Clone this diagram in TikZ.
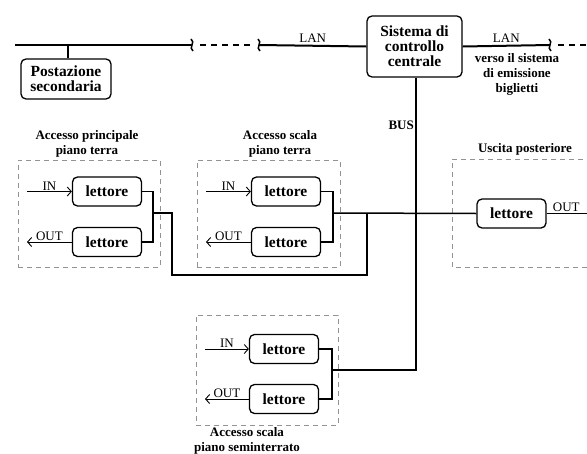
\documentclass[tikz,border=0pt]{standalone}
\usepackage{fontspec}
\setmainfont{Liberation Serif}
\usetikzlibrary{arrows.meta,calc}

\tikzset{
  box/.style={draw, rounded corners=5pt, line width=1.3pt, align=center, inner sep=1pt,
    font=\bfseries\fontsize{15.5}{15}\selectfont},
  reader/.style={box, minimum width=69pt, minimum height=29pt},
  area/.style={draw=gray!85, dash pattern=on 5pt off 4pt, line width=0.8pt},
  caption/.style={align=center, font=\bfseries\fontsize{13}{15}\selectfont},
  tag/.style={font=\fontsize{13}{13}\selectfont, inner sep=1pt},
  wire/.style={line width=1.5pt},
  lan/.style={line width=2pt},
  io/.style={line width=0.9pt, -{Straight Barb[length=4pt,width=9pt]}},
  brk/.style={line width=1.5pt}
}

\begin{document}
\begin{tikzpicture}[x=1pt,y=-1pt]
		\useasboundingbox (0,0) rectangle (587,453);

		\node[box, minimum width=95pt, minimum height=61pt] at (414.5, 46.5) (central) {Sistema di\\controllo\\centrale};
		\node[box, minimum width=90pt, minimum height=40pt] at (66, 79) (second) {Postazione\\secondaria};

		% LAN
		\coordinate (lanL) at (15, 45);
		\coordinate (tap) at (68, 45);
		\coordinate (brkA) at (192, 45);
		\coordinate (brkB) at (259, 45);
		\coordinate (brkC) at (550, 45);
		\coordinate (lanR) at (590, 45);

		\draw[lan] (lanL) -- (brkA);
		\draw[lan, dash pattern=on 6pt off 5pt] ($(brkA)+(8,0)$) -- ($(brkB)+(-6,0)$);
		\draw[lan] (brkB) -- (central.west) node[midway, above, tag, yshift=1pt] {LAN};
		\draw[lan] (central.east) -- (brkC) node[midway, above, tag, yshift=1pt] {LAN};
		\draw[lan, dash pattern=on 6pt off 5pt] ($(brkC)+(8,0)$) -- (lanR);
		\foreach \b in {brkA, brkB, brkC}
			\draw[brk] (\b) ++(-1,-6) .. controls +(5,3) and +(-5,-3) .. ++(2,12);
		\draw[wire] (tap) -- (tap |- second.north);

		\node[caption] at (517, 74) (dest) {verso il sistema\\di emissione\\biglietti};

		% Accesso principale piano terra
		\node[area, minimum width=142pt, minimum height=107pt] at (89, 213.5) (grpA) {};
		\node[caption] at (87, 144) (capA) {Accesso principale\\piano terra};
		\node[reader] at (107, 191.5) (rdA1) {lettore};
		\node[reader] at (107, 242) (rdA2) {lettore};
		\coordinate (inA) at (27, 191.5);
		\coordinate (outA) at (27, 242);
		\coordinate (jA) at (153, 213);

		% Accesso scala piano terra
		\node[area, minimum width=143pt, minimum height=107pt] at (268.5, 213.5) (grpB) {};
		\node[caption] at (280, 144) (capB) {Accesso scala\\piano terra};
		\node[reader] at (286, 191.5) (rdB1) {lettore};
		\node[reader] at (286, 242) (rdB2) {lettore};
		\coordinate (inB) at (206, 191.5);
		\coordinate (outB) at (206, 242);
		\coordinate (jB) at (333, 213);

		% Uscita posteriore
		\draw[area] (592, 159) -- (452, 159) -- (452, 267) -- (592, 267);
		\node[caption] at (525, 149) (capC) {Uscita posteriore};
		\node[reader] at (511.5, 213.5) (rdC) {lettore};
		\coordinate (outC) at (593, 213.5);

		% Accesso scala piano seminterrato
		\node[area, minimum width=142pt, minimum height=110pt] at (267, 370) (grpD) {};
		\node[caption] at (247, 441) (capD) {Accesso scala\\piano seminterrato};
		\node[reader] at (284, 349) (rdD1) {lettore};
		\node[reader] at (284, 399) (rdD2) {lettore};
		\coordinate (inD) at (205, 349);
		\coordinate (outD) at (205, 399);
		\coordinate (jD) at (332, 370);

		% bus
		\coordinate (lowL) at (172, 275);
		\coordinate (lowR) at (367, 275);
		\coordinate (busJ) at (367, 213);
		\coordinate (busEnd) at (416, 370);

		% draw edges
		\draw[io] (inA) -- (rdA1.west) node[midway, above, tag] {IN};
		\draw[io] (rdA2.west) -- (outA) node[midway, above, tag] {OUT};
		\draw[io] (inB) -- (rdB1.west) node[midway, above, tag] {IN};
		\draw[io] (rdB2.west) -- (outB) node[midway, above, tag] {OUT};
		\draw[io] (inD) -- (rdD1.west) node[midway, above, tag] {IN};
		\draw[io] (rdD2.west) -- (outD) node[midway, above, tag] {OUT};
		\draw[io] (rdC.east) -- (outC) node[near start, above, tag, xshift=8pt] {OUT};

		\draw[wire] (rdA1.east) -| (jA) |- (rdA2.east);
		\draw[wire] (rdB1.east) -| (jB) |- (rdB2.east);
		\draw[wire] (rdD1.east) -| (jD) |- (rdD2.east);

		\draw[wire] (jA) -| (lowL) -- (lowR) -- (busJ);
		\draw[wire] (jB) -- (rdC.west);
		\draw[wire] (central.south -| busEnd) -- (busEnd) -- (jD);
		\node[tag, font=\bfseries\fontsize{13}{13}\selectfont, left] at (415, 125) (bus) {BUS};
		\end{tikzpicture}
\end{document}
